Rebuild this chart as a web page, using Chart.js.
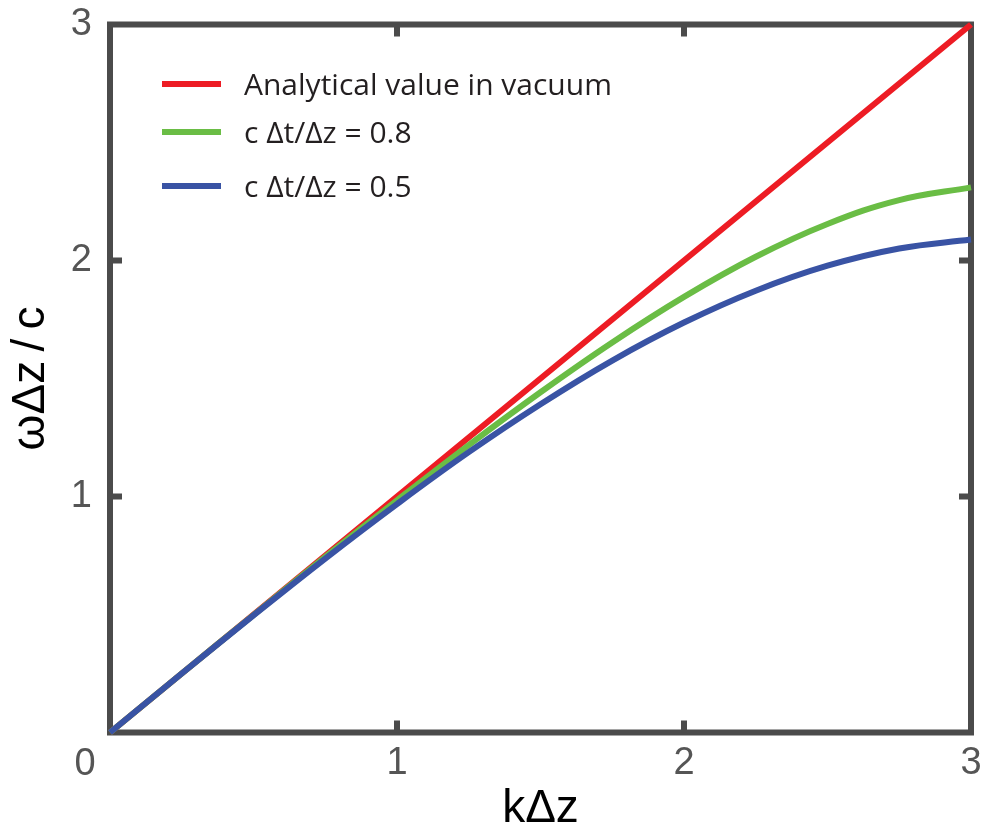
<!DOCTYPE html>
<html>
<head>
<meta charset="utf-8">
<script src="https://cdn.jsdelivr.net/npm/chart.js@4/dist/chart.umd.min.js"></script>
<style>
  html, body { margin: 0; padding: 0; background: #fff; }
  #wrap { width: 984px; height: 830px; }
</style>
</head>
<body>
<div id="wrap"><canvas id="dispChart" width="984" height="830"></canvas></div>
<script>
// k*dz sample points
const kdz = [0, 0.25, 0.5, 0.75, 1, 1.25, 1.5, 1.75, 2, 2.25, 2.5, 2.75, 3];
// omega*dz/c
const vacuum = [0, 0.25, 0.5, 0.75, 1, 1.25, 1.5, 1.75, 2, 2.25, 2.5, 2.75, 3];
const courant08 = [0, 0.250, 0.498, 0.744, 0.984, 1.218, 1.442, 1.653, 1.846, 2.016, 2.155, 2.256, 2.310];
const courant05 = [0, 0.250, 0.496, 0.737, 0.968, 1.188, 1.391, 1.576, 1.737, 1.872, 1.978, 2.051, 2.089];
const seriesLabels = ["Analytical value in vacuum", "c \u0394t/\u0394z = 0.8", "c \u0394t/\u0394z = 0.5"];
const tickValues = [0, 1, 2, 3];

const frameColor = "#4b4b4b";
const tickFont = { family: "'Liberation Sans', Arial, sans-serif", size: 38 };

function pts(ys) {
  return kdz.map((k, i) => ({ x: k, y: ys[i] }));
}

// box frame with inward ticks on all four sides
const framePlugin = {
  id: "frame",
  beforeDatasetsDraw(chart) {
    const { ctx, chartArea: a, scales } = chart;
    const xs = scales.x, ys = scales.y;
    ctx.save();
    ctx.strokeStyle = frameColor;
    ctx.lineWidth = 6;
    ctx.lineCap = "square";
    ctx.strokeRect(a.left, a.top, a.right - a.left, a.bottom - a.top);
    ctx.lineCap = "butt";
    const len = 12;
    [1, 2].forEach(v => {
      const px = xs.getPixelForValue(v);
      ctx.beginPath();
      ctx.moveTo(px, a.bottom); ctx.lineTo(px, a.bottom - len);
      ctx.moveTo(px, a.top); ctx.lineTo(px, a.top + len);
      ctx.stroke();
      const py = ys.getPixelForValue(v);
      ctx.beginPath();
      ctx.moveTo(a.left, py); ctx.lineTo(a.left + len, py);
      ctx.moveTo(a.right, py); ctx.lineTo(a.right - len, py);
      ctx.stroke();
    });
    // shared "0" at the corner
    ctx.fillStyle = "#555";
    ctx.font = "38px 'Liberation Sans', Arial, sans-serif";
    ctx.textAlign = "center";
    ctx.textBaseline = "alphabetic";
    ctx.fillText("0", xs.getPixelForValue(0) - 25, ys.getPixelForValue(0) + 42);
    ctx.restore();
  },
  afterDatasetsDraw(chart) {
    const { ctx, data } = chart;
    ctx.save();
    ctx.font = "30px 'Open Sans', sans-serif";
    ctx.textAlign = "left";
    ctx.textBaseline = "alphabetic";
    const rows = [84, 132, 186];
    data.datasets.forEach((ds, i) => {
      ctx.strokeStyle = ds.borderColor;
      ctx.lineWidth = 6;
      ctx.beginPath();
      ctx.moveTo(162, rows[i]);
      ctx.lineTo(221, rows[i]);
      ctx.stroke();
      ctx.fillStyle = "#231f20";
      ctx.fillText(ds.label, 244, rows[i] + 11);
    });
    ctx.restore();
  }
};

const ctx = document.getElementById("dispChart").getContext("2d");
const dispChart = new Chart(ctx, {
  type: "line",
  data: {
    datasets: [
      { label: seriesLabels[0], data: pts(vacuum), borderColor: "#ed1c24", order: 2 },
      { label: seriesLabels[1], data: pts(courant08), borderColor: "#6abd45", order: 1 },
      { label: seriesLabels[2], data: pts(courant05), borderColor: "#3953a4", order: 0 },
    ].map(d => Object.assign(d, {
      borderWidth: 6,
      pointRadius: 0,
      fill: false,
      tension: 0.4,
      clip: false,
    })),
  },
  options: {
    responsive: false,
    animation: false,
    layout: { padding: { top: 24.5, right: 13, left: 0, bottom: 0 } },
    plugins: { legend: { display: false }, tooltip: { enabled: false } },
    scales: {
      x: {
        type: "linear",
        min: 0,
        max: 3,
        afterFit: s => { s.height = 97.5; s.paddingLeft = 0; s.paddingRight = 0; },
        afterBuildTicks: s => { s.ticks = tickValues.map(v => ({ value: v })); },
        grid: { display: false, drawTicks: false },
        border: { display: false },
        ticks: {
          padding: 8,
          color: "#555",
          font: tickFont,
          callback: v => (v === 0 ? "" : String(v)),
        },
        title: {
          display: true,
          text: "k\u0394z",
          color: "#000",
          font: { family: "'Liberation Sans', Arial, sans-serif", size: 46, lineHeight: 1 },
          padding: { top: 0, bottom: -2 },
        },
      },
      y: {
        type: "linear",
        min: 0,
        max: 3,
        afterFit: s => { s.width = 110; s.paddingTop = 0; s.paddingBottom = 0; },
        afterBuildTicks: s => { s.ticks = tickValues.map(v => ({ value: v })); },
        grid: { display: false, drawTicks: false },
        border: { display: false },
        ticks: {
          padding: 18,
          color: "#555",
          font: tickFont,
          callback: v => (v === 0 ? "" : String(v)),
        },
        title: {
          display: true,
          text: "\u03c9\u0394z\u2009/\u2009c",
          color: "#000",
          font: { family: "'Liberation Sans', Arial, sans-serif", size: 46, lineHeight: 1 },
          padding: { top: 8, bottom: 0 },
        },
      },
    },
  },
  plugins: [framePlugin],
});
</script>
</body>
</html>
